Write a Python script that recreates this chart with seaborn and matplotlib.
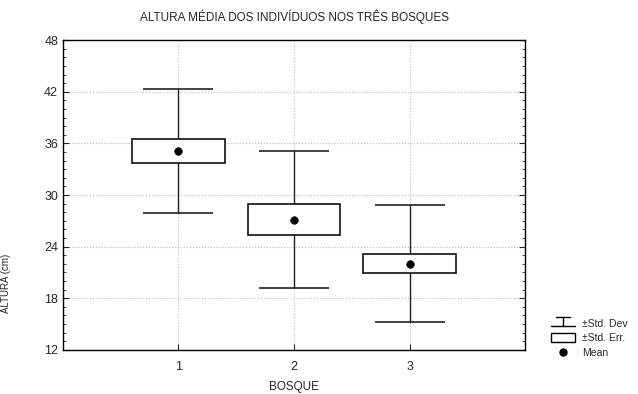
import numpy as np
import matplotlib
matplotlib.use("Agg")
import matplotlib.pyplot as plt
import seaborn as sns
from matplotlib.legend_handler import HandlerBase
from matplotlib.lines import Line2D
from matplotlib.patches import Rectangle
from matplotlib.ticker import MultipleLocator

# data
bosque = [1, 2, 3]
media = [35.07, 27.15, 22.02]
erro_padrao = [1.40, 1.78, 1.14]
desvio_padrao = [7.2, 7.95, 6.8]

sns.set_style("white")
plt.rcParams['font.family'] = ['Liberation Sans', 'DejaVu Sans']

fig = plt.figure(figsize=(6.38, 3.94), dpi=100)
ax = fig.add_axes([0.0987, 0.112, 0.7243, 0.786])

# +-SD whiskers
ax.errorbar(bosque, media, yerr=desvio_padrao, fmt='none', ecolor='#222222',
            elinewidth=1, capsize=25, capthick=1.2, zorder=2)
# +-SE boxes
se = np.array(erro_padrao)
ax.bar(bosque, 2 * se, bottom=np.array(media) - se, width=0.8,
       facecolor='white', edgecolor='#111111', linewidth=1.2, zorder=3)
# means
sns.scatterplot(x=bosque, y=media, ax=ax, color='black', s=30,
                edgecolor='black', zorder=4, legend=False)

ax.set_xlim(0, 4)
ax.set_ylim(12, 48)
ax.set_xticks(bosque)
ax.set_xticklabels([str(b) for b in bosque])
ax.set_yticks(np.arange(12, 49, 6))
ax.yaxis.set_minor_locator(MultipleLocator(1))
ax.tick_params(axis='both', which='major', labelsize=9, direction='in',
               length=4, width=0.8, left=True, right=True, bottom=True, top=False)
ax.tick_params(axis='x', which='major', pad=8)
ax.tick_params(axis='y', which='minor', direction='in', length=2, width=0.6,
               left=True, right=True)
ax.grid(True, which='major', color='#bbbbbb', linestyle=':', linewidth=0.8)
for s in ax.spines.values():
    s.set_color('black')
    s.set_linewidth(1)

ax.set_xlabel("BOSQUE", fontsize=8.5, labelpad=6)
ax.set_title("ALTURA MÉDIA DOS INDIVÍDUOS NOS TRÊS BOSQUES", fontsize=8.5, pad=14)
fig.text(0.001, 0.28, "ALTURA (cm)", rotation=90, ha='left', va='center', fontsize=7)


class HandlerSD(HandlerBase):
    def create_artists(self, legend, orig, xd, yd, w, h, fontsize, trans):
        cx = xd + w / 2
        l1 = Line2D([cx - w * 0.3, cx + w * 0.3], [yd + h, yd + h], color='black', lw=1, transform=trans)
        l2 = Line2D([cx, cx], [yd, yd + h], color='black', lw=1, transform=trans)
        l3 = Line2D([xd, xd + w], [yd, yd], color='black', lw=1, transform=trans)
        return [l1, l2, l3]


sd_handle = Line2D([], [])
se_handle = Rectangle((0, 0), 1, 1, facecolor='white', edgecolor='black', linewidth=1)
mean_handle = Line2D([], [], marker='o', color='black', linestyle='none', markersize=5)
fig.legend([sd_handle, se_handle, mean_handle], ['±Std. Dev', '±Std. Err.', 'Mean'],
           handler_map={sd_handle: HandlerSD()}, loc='upper left',
           bbox_to_anchor=(0.852, 0.21), frameon=False, fontsize=7.5,
           handlelength=2.3, handleheight=0.9, labelspacing=0.45, handletextpad=0.7,
           borderpad=0.2)

fig.savefig("out.png", dpi=100)
